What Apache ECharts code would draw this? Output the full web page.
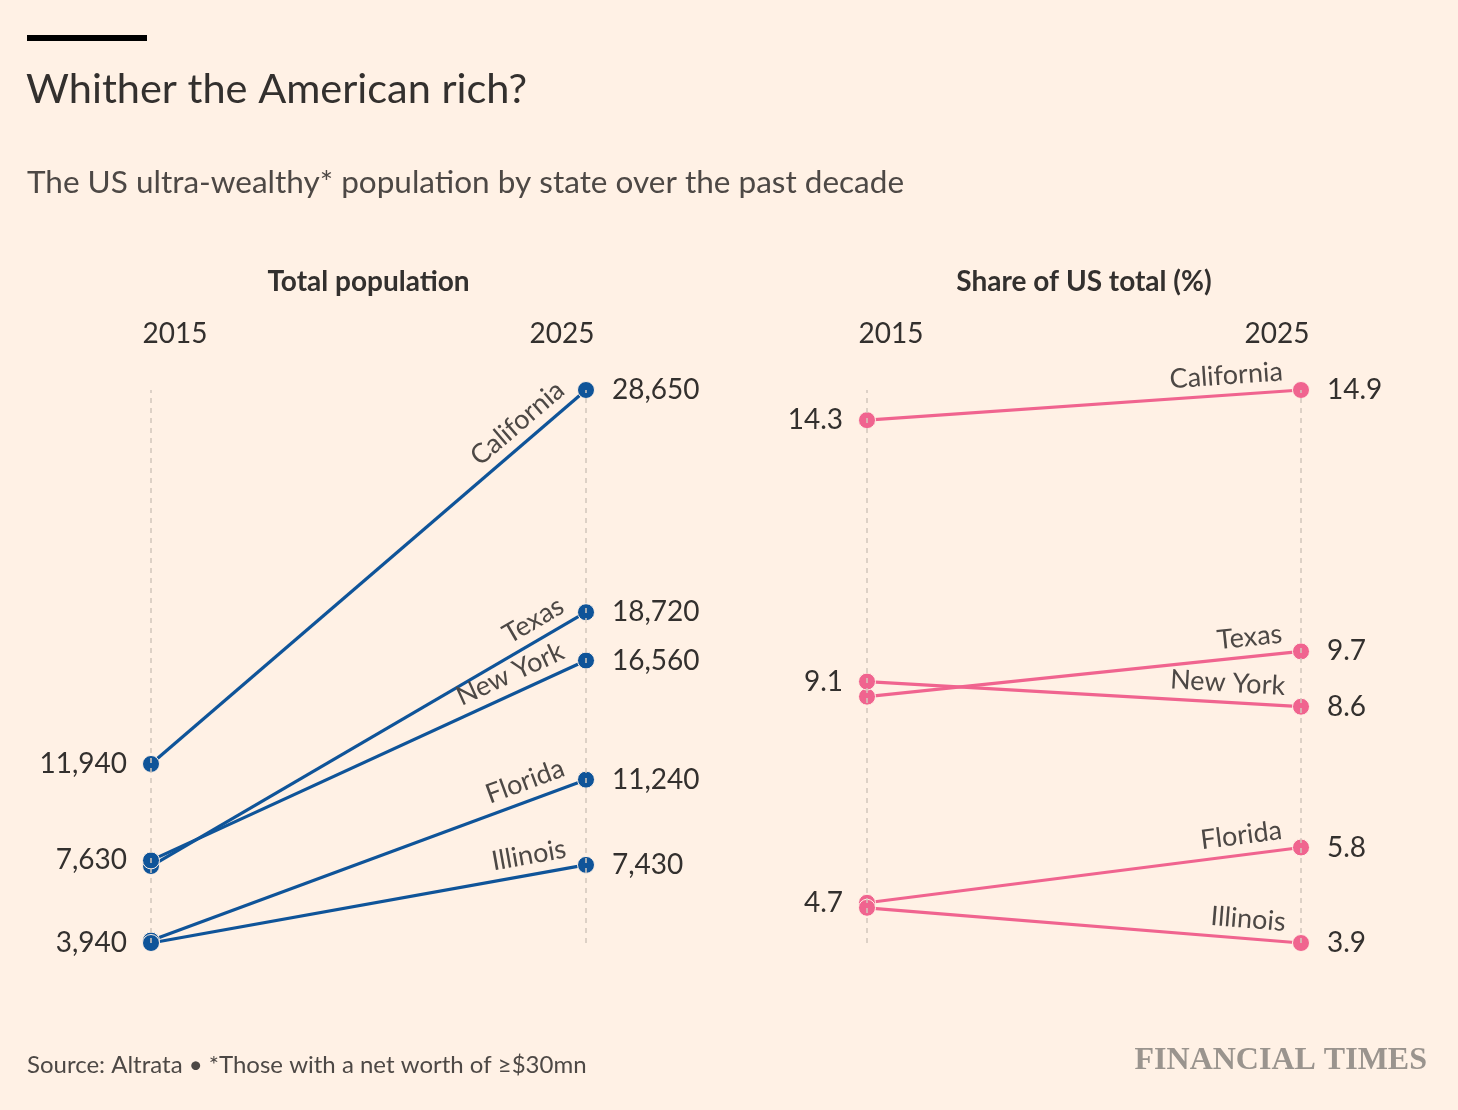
<!DOCTYPE html>
<html>
<head>
<meta charset="utf-8">
<script src="https://cdn.jsdelivr.net/npm/echarts@6/dist/echarts.min.js"></script>
<style>
html,body{margin:0;padding:0;background:#fff1e5;}
#chart{width:1458px;height:1110px;}
</style>
</head>
<body>
<div id="chart"></div>
<script>
var years = ['2015', '2025'];
var states = ['California', 'Texas', 'New York', 'Florida', 'Illinois'];
var pop2015 = [11940, 7380, 7630, 4050, 3940];
var pop2025 = [28650, 18720, 16560, 11240, 7430];
var share2015 = [14.3, 8.8, 9.1, 4.7, 4.6];
var share2025 = [14.9, 9.7, 8.6, 5.8, 3.9];
var showPop2015 = [true, false, true, false, true];
var showShare2015 = [true, false, true, true, false];

var FONT = 'Lato';
var BLUE = '#0f5499';
var PINK = '#f0648f';
var TEXT = '#33302e';
var SUB = '#4d4845';

function fmtPop(v) { return v.toLocaleString('en-US'); }
function fmtShare(v) { return v.toFixed(1); }

function valueLabel(pos, dist) {
  return {
    show: true, position: pos, distance: dist,
    fontFamily: FONT, fontSize: 28, color: TEXT
  };
}

function buildSeries(v15, v25, show15, color, axisIdx, fmt) {
  var out = [];
  for (var i = 0; i < states.length; i++) {
    out.push({
      type: 'line',
      xAxisIndex: axisIdx, yAxisIndex: axisIdx,
      z: 2,
      silent: true,
      symbol: 'circle', symbolSize: 17,
      lineStyle: { color: color, width: 3.2 },
      itemStyle: { color: color, borderColor: '#fff1e5', borderWidth: 1 },
      label: { formatter: function (p) { return fmt(p.value); } },
      data: [
        { value: v15[i], label: show15[i] ? valueLabel('left', 15) : { show: false } },
        { value: v25[i], label: valueLabel('right', 17) }
      ],
      markLine: {
        silent: true,
        symbol: ['none', 'none'],
        lineStyle: { color: 'rgba(0,0,0,0)', width: 1, type: 'solid' },
        label: {
          show: true, position: 'insideEndTop', distance: [17, 6],
          fontFamily: FONT, fontSize: 27, color: SUB,
          formatter: states[i]
        },
        data: [[{ coord: [years[0], v15[i]] }, { coord: [years[1], v25[i]] }]]
      }
    });
  }
  out.push({
    type: 'line', xAxisIndex: axisIdx, yAxisIndex: axisIdx, z: 10, silent: true,
    data: [],
    markLine: {
      silent: true, symbol: ['none', 'none'],
      lineStyle: { color: '#d2c6bc', width: 1.5, type: [5, 5] },
      label: { show: false },
      data: [{ xAxis: years[0] }, { xAxis: years[1] }]
    }
  });
  return out;
}

function xAxisFor(idx, name) {
  var yr = { fontFamily: FONT, fontSize: 28, color: TEXT };
  return {
    type: 'category', gridIndex: idx, data: years, boundaryGap: false,
    position: 'top',
    axisLine: { show: false }, axisTick: { show: false }, splitLine: { show: false },
    axisLabel: {
      margin: 42, align: 'center',
      formatter: function (v, i) { return (i === 0 ? '{a|' : '{b|') + v + '}'; },
      rich: {
        a: Object.assign({ padding: [0, 0, 0, 48] }, yr),
        b: Object.assign({ padding: [0, 48, 0, 0] }, yr)
      }
    },
    name: name, nameLocation: 'middle', nameGap: 94,
    nameTextStyle: { fontFamily: FONT, fontSize: 28, fontWeight: 'bold', color: TEXT }
  };
}

function yAxisFor(idx) {
  return { type: 'value', gridIndex: idx, show: false, min: 'dataMin', max: 'dataMax', scale: true };
}

var chart = echarts.init(document.getElementById('chart'));
chart.setOption({
  backgroundColor: '#fff1e5',
  animation: false,
  title: [
    { text: 'Whither the American rich?', left: 21, top: 64,
      textStyle: { fontFamily: FONT, fontSize: 41.5, fontWeight: 'normal', color: TEXT } },
    { text: 'The US ultra-wealthy* population by state over the past decade', left: 22, top: 162,
      textStyle: { fontFamily: FONT, fontSize: 31.5, fontWeight: 'normal', color: SUB } },
    { text: 'Source: Altrata \u2022 *Those with a net worth of \u2265$30mn', left: 22, top: 1048,
      textStyle: { fontFamily: FONT, fontSize: 24, fontWeight: 'normal', color: SUB } },
    { text: 'FINANCIAL TIMES', right: 26, top: 1040,
      textStyle: { fontFamily: 'Liberation Serif', fontSize: 32, fontWeight: 'bold', color: '#9a948e' } }
  ],
  graphic: [
    { type: 'rect', left: 27, top: 35, shape: { width: 120, height: 6 }, style: { fill: '#000' } }
  ],
  grid: [
    { left: 151, top: 390, width: 435, height: 553 },
    { left: 867, top: 390, width: 434, height: 553 }
  ],
  xAxis: [xAxisFor(0, 'Total population'), xAxisFor(1, 'Share of US total (%)')],
  yAxis: [yAxisFor(0), yAxisFor(1)],
  series: buildSeries(pop2015, pop2025, showPop2015, BLUE, 0, fmtPop)
    .concat(buildSeries(share2015, share2025, showShare2015, PINK, 1, fmtShare))
});
</script>
</body>
</html>
